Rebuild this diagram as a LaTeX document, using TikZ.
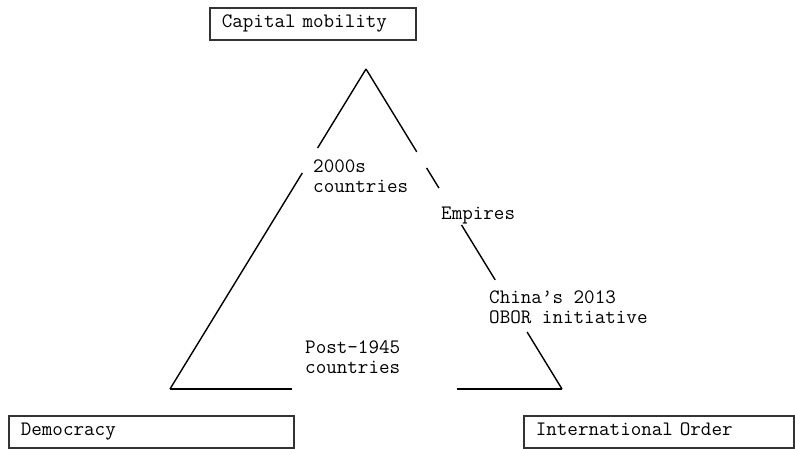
\documentclass[tikz,border=0pt]{standalone}
\usepackage{fontspec}
\usetikzlibrary{calc}
\tikzset{
  lbl/.style={font=\ttfamily\fontsize{20.5}{20}\selectfont, inner sep=0pt, anchor=base west, align=left},
  cornerbox/.style={draw=black!80, line width=1.6pt, anchor=north west, minimum height=32pt,
    font=\ttfamily\fontsize{20.5}{20}\selectfont, text height=12pt, text depth=4pt,
    inner xsep=12pt, align=left},
  tri/.style={draw=black, line width=1.4pt, line cap=butt}
}
\begin{document}
\begin{tikzpicture}[x=1pt,y=-1pt]
\useasboundingbox (0,0) rectangle (795,449);
% boxes
\node[cornerbox, minimum width=206pt, text width=182pt] (cap) at (209,7) {Capital mobility};
\node[cornerbox, minimum width=285pt, text width=261pt] (dem) at (8,415) {Democracy};
\node[cornerbox, minimum width=270pt, text width=246pt] (io) at (523,415) {International Order};
% triangle corners
\coordinate (A) at (366,69);
\coordinate (L) at (170,389);
\coordinate (R) at (562,389);
% left side
\draw[tri] (A) -- ($(A)!0.247!(L)$);
\draw[tri] ($(A)!0.325!(L)$) -- (L);
% right side
\draw[tri] (A) -- ($(A)!0.259!(R)$);
\draw[tri] ($(A)!0.309!(R)$) -- ($(A)!0.372!(R)$);
\draw[tri] ($(A)!0.4875!(R)$) -- ($(A)!0.659!(R)$);
\draw[tri] ($(A)!0.822!(R)$) -- (R);
% bottom
\draw[tri] (L) -- (292,389);
\draw[tri] (457,389) -- (R);
% labels (anchored at the baseline of the last line)
\node[lbl] (c2000) at (313,193) {2000s\\countries};
\node[lbl] (emp) at (441,220) {Empires};
\node[lbl] (china) at (489,323) {China’s 2013\\OBOR initiative};
\node[lbl] (post) at (305,373) {Post-1945\\countries};
\end{tikzpicture}
\end{document}
